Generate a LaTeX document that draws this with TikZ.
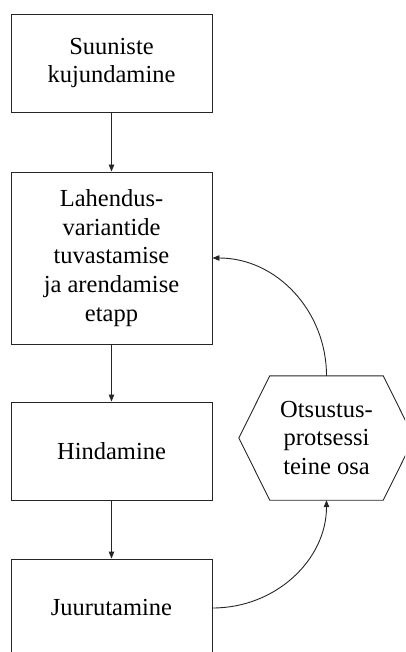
\documentclass[tikz,border=0pt]{standalone}
\usepackage{fontspec}
\setmainfont{Liberation Serif}
\usetikzlibrary{arrows.meta,calc}

\tikzset{
  stage/.style={draw=black!85, line width=0.9pt, minimum width=201pt,
    inner sep=0pt, align=center,
    font=\fontsize{24.5}{28.7}\selectfont},
  hexlabel/.style={minimum width=113pt, minimum height=124pt, inner sep=0pt,
    align=center, font=\fontsize{24.5}{28.3}\selectfont},
  outline/.style={draw=black!85, line width=0.9pt},
  flow/.style={draw=black!85, line width=0.9pt,
    -{Triangle[length=7pt,width=5.5pt]}}
}

\begin{document}
\begin{tikzpicture}[x=1pt,y=-1pt]
  \useasboundingbox (0,0) rectangle (405,652);
  \clip (0,0) rectangle (405,652);

  % main stages of the process
  \node[stage, minimum height=98pt]  (suund)  at (111.5,63)  {Suuniste\\kujundamine};
  \node[stage, minimum height=172pt] (lahend) at (111.5,258) {Lahendus-\\variantide\\tuvastamise\\ja arendamise\\etapp};
  \node[stage, minimum height=98pt]  (hind)   at (111.5,451) {Hindamine};
  \node[stage, minimum height=98pt]  (juur)   at (111.5,608) {Juurutamine};

  % other part of the decision process
  \node[hexlabel] (hex) at (326.5,438) {Otsustus-\\protsessi\\teine osa};
  \draw[outline] (hex.north west) -- (hex.north east) -- ($(hex.east)+(31,0)$)
    -- (hex.south east) -- (hex.south west) -- ($(hex.west)+(-31,0)$) -- cycle;

  % sequence arrows
  \draw[flow] (suund.south) -- (lahend.north);
  \draw[flow] (lahend.south) -- (hind.north);
  \draw[flow] (hind.south) -- (juur.north);

  % feedback loop
  \draw[flow] (juur.east) .. controls +(64,0) and +(0,59) .. (hex.south);
  \draw[flow] (hex.north) .. controls +(0,-65) and +(64,0) .. (lahend.east);
\end{tikzpicture}
\end{document}
